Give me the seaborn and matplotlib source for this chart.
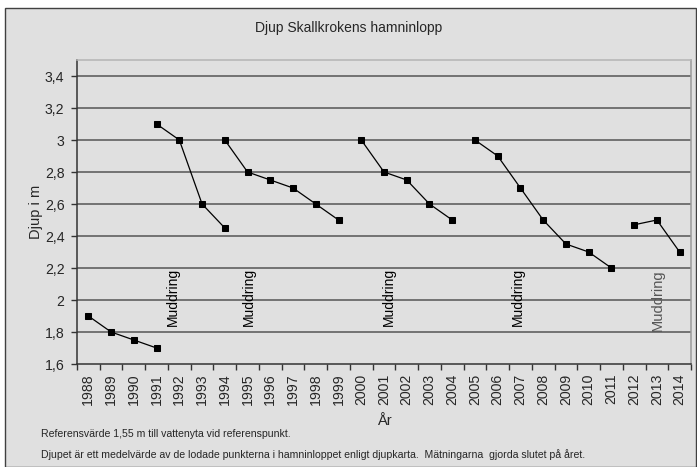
import numpy as np
import pandas as pd
import matplotlib
matplotlib.use("Agg")
import matplotlib.pyplot as plt
from matplotlib.patches import Rectangle
from matplotlib.ticker import FixedLocator, FuncFormatter
import seaborn as sns

# depth measurements, one list per dredging period
years_1 = [1988, 1989, 1990, 1991]
depth_1 = [1.9, 1.8, 1.75, 1.7]
years_2 = [1991, 1992, 1993, 1994]
depth_2 = [3.1, 3.0, 2.6, 2.45]
years_3 = [1994, 1995, 1996, 1997, 1998, 1999]
depth_3 = [3.0, 2.8, 2.75, 2.7, 2.6, 2.5]
years_4 = [2000, 2001, 2002, 2003, 2004]
depth_4 = [3.0, 2.8, 2.75, 2.6, 2.5]
years_5 = [2005, 2006, 2007, 2008, 2009, 2010, 2011]
depth_5 = [3.0, 2.9, 2.7, 2.5, 2.35, 2.3, 2.2]
years_6 = [2012, 2013, 2014]
depth_6 = [2.47, 2.5, 2.3]

all_years = list(range(1988, 2015))
y_ticks = [1.6, 1.8, 2.0, 2.2, 2.4, 2.6, 2.8, 3.0, 3.2, 3.4]
dredge_years = [1991.7, 1995.05, 2001.2, 2006.9, 2013.05]

title = "Djup Skallkrokens hamninlopp"
note_1 = "Referensvärde 1,55 m till vattenyta vid referenspunkt."
note_2 = ("Djupet är ett medelvärde av de lodade punkterna i hamninloppet enligt "
          "djupkarta.  Mätningarna  gjorda slutet på året.")

segments = [(years_1, depth_1), (years_2, depth_2), (years_3, depth_3),
            (years_4, depth_4), (years_5, depth_5), (years_6, depth_6)]
frames = []
for i, (yr, dp) in enumerate(segments):
    frames.append(pd.DataFrame({"year": yr, "depth": dp, "segment": i}))
df = pd.concat(frames, ignore_index=True)

sns.set_theme(style="white")
plt.rcParams["font.family"] = ["Liberation Sans", "DejaVu Sans"]

bg = "#e0e0e0"
fig = plt.figure(figsize=(6.97, 4.67), dpi=100, facecolor="white")
fig.patches.append(Rectangle((5 / 697, 0), 691 / 697, 1 - 8 / 467,
                             transform=fig.transFigure, facecolor=bg,
                             edgecolor="#404040", linewidth=1.0, zorder=-5))
ax = fig.add_axes([77 / 697, 1 - 364 / 467, 614 / 697, 304 / 467])
ax.set_zorder(2)
ax.set_facecolor(bg)

sns.lineplot(data=df, x="year", y="depth", units="segment", estimator=None,
             color="black", linewidth=0.9, marker="s", markersize=4.5,
             markeredgecolor="black", ax=ax, legend=False, zorder=3)

ax.set_xlim(1987.5, 2014.5)
ax.set_ylim(1.6, 3.5)

# gridlines
for v in y_ticks[1:]:
    ax.axhline(v, color="#555555", linewidth=1.1, zorder=1)

ax.xaxis.set_major_locator(FixedLocator(all_years))
ax.set_xticklabels([str(y) for y in all_years], rotation=90)
ax.xaxis.set_minor_locator(FixedLocator([y - 0.5 for y in all_years] + [2014.5]))
ax.tick_params(axis="x", which="major", length=0, pad=7, labelsize=10.2)
ax.tick_params(axis="x", which="minor", length=4, width=1, color="#333333",
               direction="out", bottom=True)
ax.set_yticks(y_ticks)
ax.yaxis.set_major_formatter(FuncFormatter(lambda v, p: f"{v:g}".replace(".", ",")))
ax.tick_params(axis="y", length=4, width=1, color="#333333", direction="out",
               left=True, pad=5, labelsize=10.2)

for s in ["left", "bottom"]:
    ax.spines[s].set_color("#333333")
    ax.spines[s].set_linewidth(1.1)
ax.spines["top"].set_color("#b4b4b4")
ax.spines["right"].set_color("#9a9a9a")
for s in ["top", "right"]:
    ax.spines[s].set_linewidth(1.1)

for i, x in enumerate(dredge_years):
    last = i == len(dredge_years) - 1
    ax.text(x, 2.02 if not last else 2.0, "Muddring", rotation=90,
            ha="center", va="center", fontsize=10 if not last else 10.5,
            color="black" if not last else "#555555", zorder=4)

ax.set_xlabel("År", fontsize=10.5, labelpad=6)
ax.set_ylabel("Djup i m", fontsize=10.5, labelpad=1)

fig.text(0.5, 1 - 28 / 467, title, ha="center", va="center", fontsize=10)
fig.text(41 / 697, 1 - 434 / 467, note_1, ha="left", va="center", fontsize=7.6)
fig.text(41 / 697, 1 - 455 / 467, note_2, ha="left", va="center", fontsize=7.6)

fig.savefig("out.png", dpi=100, facecolor="white")
